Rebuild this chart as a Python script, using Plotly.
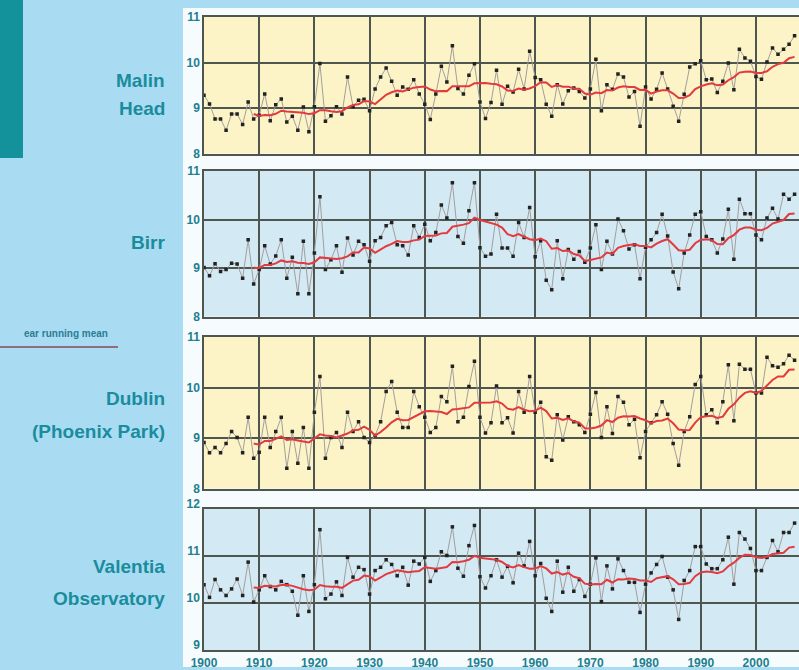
import plotly.graph_objects as go
import pandas as pd

years = list(range(1900, 2008))

malin_head = [
    9.28, 9.09, 8.76, 8.76, 8.51, 8.87, 8.87, 8.64, 9.13, 8.76,
    8.84, 9.31, 8.72, 9.07, 9.20, 8.69, 8.82, 8.51, 9.02, 8.48,
    9.03, 9.98, 8.71, 8.83, 9.03, 8.87, 9.68, 9.03, 9.17, 9.19,
    8.94, 9.42, 9.68, 9.88, 9.59, 9.28, 9.46, 9.41, 9.62, 9.31,
    9.08, 8.75, 9.31, 9.92, 9.57, 10.37, 9.43, 9.31, 9.72, 9.97,
    9.13, 8.77, 9.12, 9.83, 9.08, 9.48, 9.35, 9.85, 9.42, 10.25,
    9.67, 9.62, 9.08, 8.82, 9.51, 9.09, 9.38, 9.44, 9.36, 9.22,
    9.42, 10.07, 8.94, 9.51, 9.41, 9.75, 9.68, 9.24, 9.36, 8.60,
    9.46, 9.20, 9.41, 9.77, 9.42, 9.04, 8.71, 9.30, 9.90, 9.97,
    10.04, 9.62, 9.64, 9.34, 9.59, 9.99, 9.40, 10.29, 10.10, 10.03,
    9.69, 9.63, 10.01, 10.32, 10.18, 10.29, 10.40, 10.59,
]

birr = [
    9.01, 8.84, 9.09, 8.93, 8.97, 9.10, 9.08, 8.79, 9.58, 8.67,
    8.97, 9.46, 9.08, 9.25, 9.58, 8.79, 9.22, 8.47, 9.55, 8.47,
    9.31, 10.47, 8.97, 9.17, 9.46, 8.91, 9.62, 9.27, 9.55, 9.48,
    9.14, 9.56, 9.63, 9.87, 9.94, 9.48, 9.46, 9.27, 9.87, 9.63,
    9.90, 9.56, 9.73, 10.30, 10.03, 10.76, 9.65, 9.51, 10.18, 10.76,
    9.42, 9.24, 9.29, 10.11, 9.41, 9.41, 9.24, 9.94, 9.63, 10.25,
    9.23, 9.56, 8.75, 8.55, 9.56, 8.78, 9.38, 9.18, 9.34, 9.12,
    9.41, 9.89, 8.97, 9.55, 9.29, 10.01, 9.77, 9.39, 9.48, 8.78,
    9.43, 9.58, 9.73, 10.11, 9.66, 8.92, 8.57, 9.31, 9.68, 10.11,
    10.16, 9.65, 9.58, 9.31, 9.60, 10.21, 9.18, 10.42, 10.12, 10.12,
    9.68, 9.58, 10.03, 10.23, 10.01, 10.52, 10.42, 10.52,
]

dublin = [
    8.91, 8.71, 8.81, 8.71, 8.89, 9.13, 9.01, 8.71, 9.41, 8.60,
    8.72, 9.41, 8.81, 9.13, 9.41, 8.40, 9.13, 8.50, 9.21, 8.40,
    9.51, 10.22, 8.60, 9.01, 9.11, 8.81, 9.51, 9.13, 9.32, 9.01,
    8.91, 9.05, 9.32, 9.92, 10.12, 9.51, 9.21, 9.21, 9.92, 9.62,
    9.41, 9.11, 9.21, 9.82, 9.72, 10.42, 9.32, 9.41, 10.02, 10.52,
    9.41, 9.10, 9.30, 10.03, 9.30, 9.40, 9.10, 9.92, 9.51, 10.22,
    9.51, 9.71, 8.63, 8.56, 9.46, 8.96, 9.42, 9.32, 9.26, 9.11,
    9.47, 9.90, 9.01, 9.62, 9.09, 9.82, 9.71, 9.26, 9.37, 8.61,
    9.13, 9.30, 9.46, 9.72, 9.47, 8.89, 8.46, 9.13, 9.42, 10.06,
    10.22, 9.46, 9.56, 9.30, 9.72, 10.45, 9.34, 10.46, 10.36, 10.36,
    9.89, 9.89, 10.60, 10.43, 10.40, 10.47, 10.64, 10.54,
]

valentia = [
    10.39, 10.12, 10.50, 10.28, 10.16, 10.30, 10.51, 10.16, 10.87, 10.02,
    10.28, 10.58, 10.35, 10.28, 10.46, 10.39, 10.25, 9.74, 10.58, 9.82,
    10.39, 11.56, 10.09, 10.19, 10.45, 10.16, 10.97, 10.55, 10.76, 10.71,
    10.19, 10.69, 10.76, 10.92, 10.82, 10.58, 10.76, 10.38, 10.89, 10.83,
    10.97, 10.46, 10.69, 11.09, 11.01, 11.62, 10.74, 10.57, 11.22, 11.65,
    10.56, 10.32, 10.58, 10.92, 10.55, 10.78, 10.43, 11.06, 10.79, 11.31,
    10.58, 10.84, 10.10, 9.82, 10.89, 10.23, 10.76, 10.25, 10.50, 10.14,
    10.40, 10.96, 10.03, 10.79, 10.30, 10.94, 10.69, 10.44, 10.44, 9.80,
    10.40, 10.64, 10.82, 10.99, 10.55, 10.28, 9.65, 10.48, 10.69, 11.20,
    11.20, 10.83, 10.73, 10.73, 10.92, 11.40, 10.40, 11.50, 11.36, 11.16,
    10.69, 10.69, 10.97, 11.33, 11.09, 11.50, 11.50, 11.70,
]

station_names = [["Malin", "Head"], ["Birr"], ["Dublin", "(Phoenix Park)"], ["Valentia", "Observatory"]]
series = [malin_head, birr, dublin, valentia]
y_ranges = [[8, 11], [8, 11], [8, 11], [9, 12]]
y_ticks = [[8, 9, 10, 11], [8, 9, 10, 11], [8, 9, 10, 11], [9, 10, 11, 12]]
x_ticks = list(range(1900, 2001, 10))
legend_text = "ear running mean"
window = 10

W, H = 799, 670
def py(p):
    return 1 - p / H
def px(p):
    return p / W

domains_px = [(17, 153.5), (171, 316.5), (337, 488.5), (509, 650)]
bg_colors = ["#fcf4c6", "#d3eaf4", "#fcf4c6", "#d3eaf4"]
label_pos = [[81, 108], [242], [398, 431], [566, 598]]
ylabel_shift = [0, 0, 0, -5]

teal = "#1a8c9c"
grid = "#4f5650"
FONT = "Liberation Sans Narrow, Arial Narrow, Liberation Sans, Arial"
tickfont = dict(family=FONT, size=12, color="#22808e", weight="bold")

fig = go.Figure()

for i, vals in enumerate(series):
    n = i + 1
    xa = "x" if n == 1 else f"x{n}"
    ya = "y" if n == 1 else f"y{n}"
    s = pd.Series(vals, index=years)
    rm = s.rolling(window).mean()
    fig.add_trace(go.Scatter(
        x=years, y=vals, mode="lines+markers", xaxis=xa, yaxis=ya,
        line=dict(color="#a39d9d", width=1),
        marker=dict(symbol="square", size=3.5, color="#222222"),
        showlegend=False, hoverinfo="skip"))
    fig.add_trace(go.Scatter(
        x=years, y=rm.tolist(), mode="lines", xaxis=xa, yaxis=ya,
        line=dict(color="#e23a3e", width=2),
        showlegend=False, hoverinfo="skip", connectgaps=False))

layout = dict(
    template="none",
    width=W, height=H,
    margin=dict(l=0, r=0, t=0, b=0, pad=0, autoexpand=False),
    paper_bgcolor="#a9dcf3",
    plot_bgcolor="rgba(0,0,0,0)",
    showlegend=False,
)
for i in range(4):
    n = i + 1
    xk = "xaxis" if n == 1 else f"xaxis{n}"
    yk = "yaxis" if n == 1 else f"yaxis{n}"
    top, bot = domains_px[i]
    layout[xk] = dict(
        domain=[px(204), 1.0], range=[1900, 2007.8], automargin=False,
        tickvals=x_ticks, showticklabels=(n == 4), ticklabelstandoff=1,
        tickfont=tickfont, ticks="", showgrid=True, gridcolor=grid, gridwidth=1.5,
        showline=True, linecolor=grid, linewidth=1.5, mirror=True, zeroline=False,
        anchor="y" if n == 1 else f"y{n}", fixedrange=True,
    )
    layout[yk] = dict(
        domain=[py(bot), py(top)], range=y_ranges[i], automargin=False,
        tickvals=y_ticks[i], tickfont=tickfont, ticks="", ticklabelshift=ylabel_shift[i],
        showgrid=True, gridcolor=grid, gridwidth=1.5,
        showline=True, linecolor=grid, linewidth=1.5, zeroline=False,
        anchor="x" if n == 1 else f"x{n}", fixedrange=True,
    )
fig.update_layout(**layout)

shapes = [
    dict(type="rect", xref="paper", yref="paper", x0=px(183), x1=1, y0=py(667), y1=py(8),
         fillcolor="#f6fbfd", line=dict(width=0), layer="below"),
    dict(type="rect", xref="paper", yref="paper", x0=0, x1=px(23), y0=py(158), y1=1,
         fillcolor="#13929c", line=dict(width=0), layer="below"),
    dict(type="line", xref="paper", yref="paper", x0=0, x1=px(118), y0=py(347), y1=py(347),
         line=dict(color="#8e6e7a", width=2)),
]
for i in range(4):
    top, bot = domains_px[i]
    shapes.append(dict(type="rect", xref="paper", yref="paper", x0=px(204), x1=1,
                       y0=py(bot), y1=py(top), fillcolor=bg_colors[i],
                       line=dict(width=0), layer="below"))
fig.update_layout(shapes=shapes)

annotations = []
label_font = dict(family=FONT, size=19, color=teal, weight="bold")
for i, names in enumerate(station_names):
    for j, nm in enumerate(names):
        annotations.append(dict(
            text=nm, xref="paper", yref="paper", x=px(167), y=py(label_pos[i][j]),
            xanchor="right", yanchor="middle", showarrow=False, font=label_font))
annotations.append(dict(
    text=legend_text, xref="paper", yref="paper", x=px(110), y=py(334),
    xanchor="right", yanchor="middle", showarrow=False,
    font=dict(family=FONT, size=10, color="#2b7d92", weight="bold")))
fig.update_layout(annotations=annotations)

fig.write_html("out.html", config={"displayModeBar": False},
               post_script="document.body.style.margin='0';document.body.style.padding='0';")
